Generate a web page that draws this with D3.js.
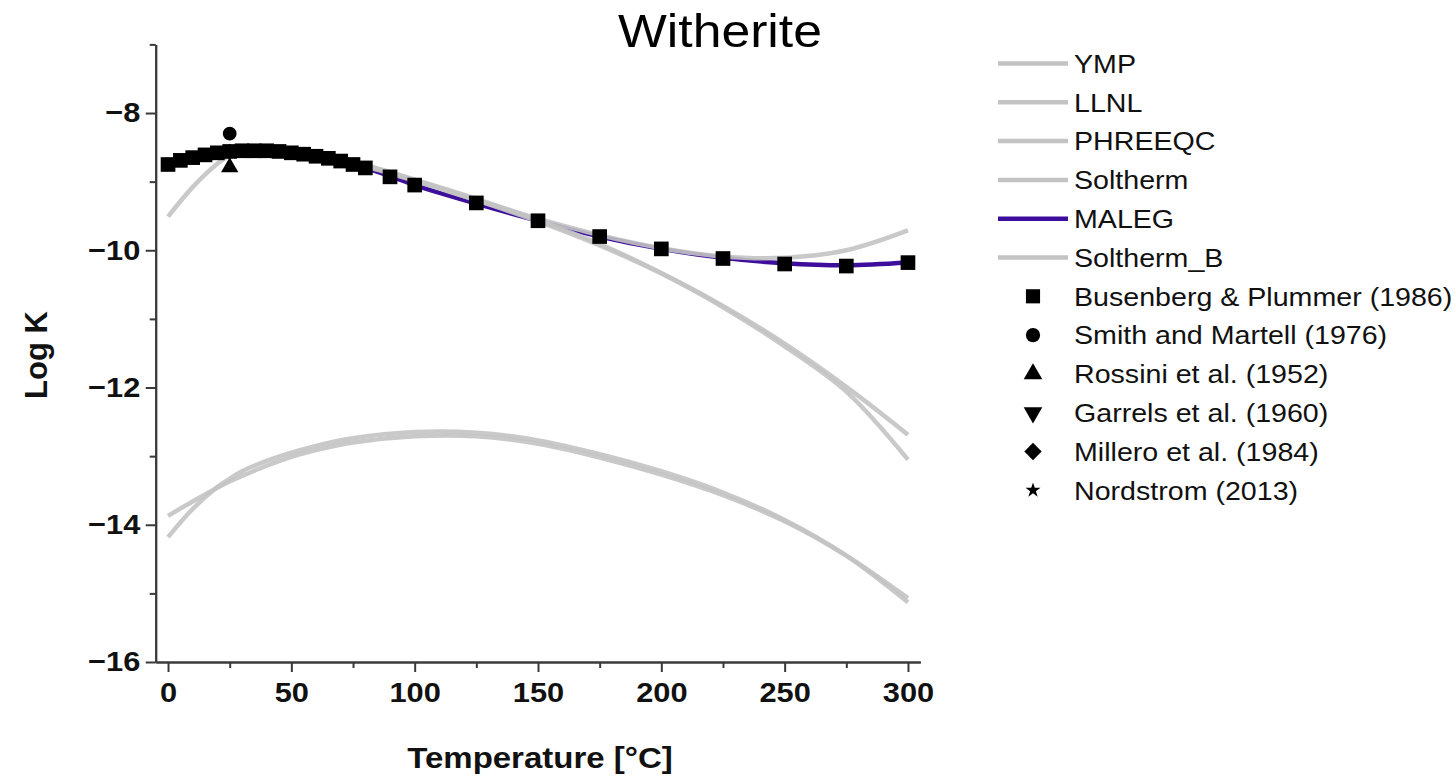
<!DOCTYPE html>
<html>
<head>
<meta charset="utf-8">
<script src="https://cdn.jsdelivr.net/npm/d3@7"></script>
<style>
  html, body { margin: 0; padding: 0; background: #fff; }
  svg { display: block; font-family: "Liberation Sans", Arial, sans-serif; }
</style>
</head>
<body>
<svg id="chart" width="1456" height="777"></svg>
<script>
// ---------------- data ----------------
const chartTitle = "Witherite";
const xLabel = "Temperature [°C]";
const yLabel = "Log K";

const xMajorTicks = [0, 50, 100, 150, 200, 250, 300];
const xMinorTicks = [25, 75, 125, 175, 225, 275];
const yMajorTicks = [-16, -14, -12, -10, -8];
const yMinorTicks = [-15, -13, -11, -9, -7];

// grid of temperatures for the model curves
const curveTemps = [0, 10, 20, 25, 30, 40, 50, 60, 75, 100, 125, 150, 175, 200, 225, 250, 275, 300];
const ympValues      = [-13.87, -13.66, -13.46, -13.37, -13.29, -13.14, -13.01, -12.91, -12.80, -12.71, -12.71, -12.82, -13.02, -13.27, -13.57, -13.95, -14.45, -15.07];
const llnlValues     = [-14.18, -13.77, -13.45, -13.33, -13.22, -13.07, -12.95, -12.85, -12.74, -12.65, -12.66, -12.77, -12.97, -13.22, -13.53, -13.93, -14.45, -15.13];
const phreeqcValues  = [-8.72, -8.64, -8.58, -8.56, -8.55, -8.54, -8.56, -8.61, -8.71, -8.97, -9.25, -9.56, -9.91, -10.33, -10.81, -11.36, -11.99, -12.69];
const solthermValues = [-9.51, -9.08, -8.74, -8.62, -8.57, -8.55, -8.57, -8.62, -8.73, -8.99, -9.27, -9.54, -9.78, -9.97, -10.09, -10.11, -10.00, -9.71];
const solthermBValues= [-8.76, -8.66, -8.59, -8.57, -8.56, -8.56, -8.58, -8.62, -8.72, -8.98, -9.27, -9.58, -9.93, -10.34, -10.83, -11.40, -12.06, -13.05];

const malegTemps  = [0, 10, 20, 30, 40, 50, 60, 70, 80, 90, 100, 125, 150, 175, 200, 225, 250, 275, 300];
const malegValues = [-8.74, -8.65, -8.58, -8.55, -8.55, -8.58, -8.63, -8.70, -8.80, -8.92, -9.05, -9.32, -9.57, -9.80, -9.98, -10.11, -10.19, -10.22, -10.18];

// experimental data
const bpTemps  = [0, 5, 10, 15, 20, 25, 30, 35, 40, 45, 50, 55, 60, 65, 70, 75, 80, 90, 100, 125, 150, 175, 200, 225, 250, 275, 300];
const bpValues = [-8.75, -8.69, -8.65, -8.61, -8.58, -8.56, -8.55, -8.55, -8.55, -8.56, -8.58, -8.60, -8.63, -8.66, -8.70, -8.75, -8.80, -8.93, -9.05, -9.31, -9.57, -9.80, -9.98, -10.12, -10.20, -10.23, -10.18];
const smithTemps = [25];   const smithValues = [-8.30];
const rossiniTemps = [25]; const rossiniValues = [-8.79];
const garrelsTemps = [25]; const garrelsValues = [-8.56];
const milleroTemps = [25]; const milleroValues = [-8.56];
const nordstromTemps = [25]; const nordstromValues = [-8.56];

const lineNames = ["YMP", "LLNL", "PHREEQC", "Soltherm", "MALEG", "Soltherm_B"];
const pointNames = ["Busenberg & Plummer (1986)", "Smith and Martell (1976)", "Rossini et al. (1952)",
                    "Garrels et al. (1960)", "Millero et al. (1984)", "Nordstrom (2013)"];

// ---------------- drawing ----------------
const svg = d3.select("#chart");
const GREY = "#c3c3c3";
const PURPLE = "#3d0e9b";
const AXIS = "#3a3a3a";
const SX = 1.1;

const x = d3.scaleLinear().domain([-5, 305]).range([155.7, 920.3]);
const y = d3.scaleLinear().domain([-16, -7]).range([662, 44.4]);

// axes
const yAxisMajor = d3.axisLeft(y).tickValues(yMajorTicks).tickSize(10).tickSizeOuter(0)
  .tickFormat(d => String(d).replace("-", "\u2212"));
const yAxisMinor = d3.axisLeft(y).tickValues(yMinorTicks).tickSize(6).tickSizeOuter(0).tickFormat("");
const xAxisMajor = d3.axisBottom(x).tickValues(xMajorTicks).tickSize(10).tickSizeOuter(0);
const xAxisMinor = d3.axisBottom(x).tickValues(xMinorTicks).tickSize(6).tickSizeOuter(0).tickFormat("");

const gy = svg.append("g").attr("transform", `translate(${x(-5)},0)`);
gy.call(yAxisMajor);
gy.append("g").call(yAxisMinor);
const gx = svg.append("g").attr("transform", `translate(0,${y(-16)})`);
gx.call(xAxisMajor);
gx.append("g").call(xAxisMinor);

svg.selectAll(".domain").attr("stroke", AXIS).attr("stroke-width", 2);
svg.selectAll(".tick line").attr("stroke", AXIS).attr("stroke-width", 2);
gy.selectAll(".tick text").attr("font-size", 28).attr("font-weight", "bold").attr("fill", "#111")
  .attr("x", -14).attr("transform", `scale(${SX},1)`);
gx.selectAll(".tick text").attr("font-size", 28).attr("font-weight", "bold").attr("fill", "#111")
  .attr("y", 20).attr("dy", "0.71em").attr("transform", `scale(${SX},1)`);

// axis titles
svg.append("text").attr("transform", `translate(540,768) scale(${SX},1)`)
  .attr("text-anchor", "middle").attr("font-size", 30).attr("font-weight", "bold").attr("fill", "#111")
  .text(xLabel);
svg.append("text").attr("transform", `translate(47,355) rotate(-90)`)
  .attr("text-anchor", "middle").attr("font-size", 31).attr("font-weight", "bold").attr("fill", "#111")
  .text(yLabel);

// title
svg.append("text").attr("transform", `translate(720,47) scale(${SX},1)`)
  .attr("text-anchor", "middle").attr("font-size", 47).attr("fill", "#000")
  .text(chartTitle);

// lines
const line = d3.line().x(d => x(d[0])).y(d => y(d[1])).curve(d3.curveCatmullRom.alpha(0.5));
const zipc = (ts, vs) => ts.map((t, i) => [t, vs[i]]);

const plot = svg.append("g");
plot.append("path").datum(zipc(malegTemps, malegValues)).attr("d", line)
  .attr("fill", "none").attr("stroke", PURPLE).attr("stroke-width", 4.5);

[ympValues, llnlValues, phreeqcValues, solthermValues, solthermBValues].forEach(vals => {
  plot.append("path").datum(zipc(curveTemps, vals)).attr("d", line)
    .attr("fill", "none").attr("stroke", GREY).attr("stroke-width", 4.5).attr("stroke-opacity", 0.9);
});

// points
const sym = (type, size) => d3.symbol().type(type).size(size)();
function pts(ts, vs, type, size, rot) {
  plot.selectAll(null).data(zipc(ts, vs)).enter().append("path")
    .attr("d", sym(type, size))
    .attr("transform", d => `translate(${x(d[0])},${y(d[1])}) rotate(${rot || 0})`)
    .attr("fill", "#000");
}
pts(garrelsTemps, garrelsValues, d3.symbolTriangle, 110, 180);
pts(milleroTemps, milleroValues, d3.symbolSquare, 120, 45);
pts(nordstromTemps, nordstromValues, d3.symbolStar, 60);
pts(bpTemps, bpValues, d3.symbolSquare, 215);
pts(rossiniTemps, rossiniValues, d3.symbolTriangle, 130);
pts(smithTemps, smithValues, d3.symbolCircle, 150);

// legend
const legY0 = 63.5, legDY = 38.8, legTextX = 1074;
const leg = svg.append("g");
lineNames.forEach((name, i) => {
  const yy = legY0 + i * legDY;
  leg.append("line").attr("x1", 998).attr("x2", 1068).attr("y1", yy).attr("y2", yy)
    .attr("stroke", name === "MALEG" ? PURPLE : GREY).attr("stroke-width", 4.5);
  leg.append("text").attr("transform", `translate(${legTextX},${yy}) scale(${SX},1)`)
    .attr("dy", "0.36em").attr("font-size", 26).attr("fill", "#111").text(name);
});
const legSyms = [[d3.symbolSquare, 200, 0], [d3.symbolCircle, 160, 0], [d3.symbolTriangle, 150, 0],
                 [d3.symbolTriangle, 150, 180], [d3.symbolSquare, 150, 45], [d3.symbolStar, 70, 0]];
pointNames.forEach((name, i) => {
  const yy = legY0 + (i + 6) * legDY;
  const s = legSyms[i];
  leg.append("path").attr("d", sym(s[0], s[1]))
    .attr("transform", `translate(1033,${yy}) rotate(${s[2]})`).attr("fill", "#000");
  leg.append("text").attr("transform", `translate(${legTextX},${yy}) scale(${SX},1)`)
    .attr("dy", "0.36em").attr("font-size", 26).attr("fill", "#111").text(name);
});
</script>
</body>
</html>
